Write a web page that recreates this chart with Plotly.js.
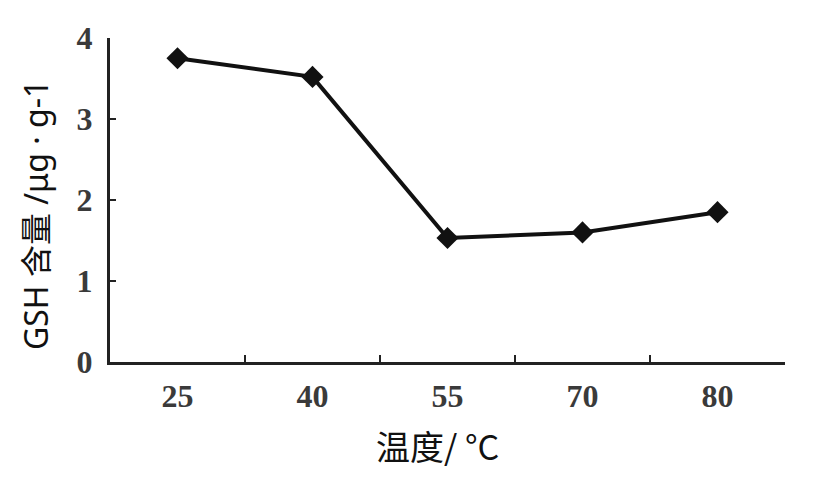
<!DOCTYPE html>
<html>
<head>
<meta charset="utf-8">
<script src="https://cdn.plot.ly/plotly-3.0.1.min.js"></script>
<style>html,body{margin:0;padding:0;background:#fff;}#chart{width:820px;height:488px;}</style>
</head>
<body>
<div id="chart"></div>
<script>
const temperatures = ["25", "40", "55", "70", "80"];
const gshContent = [3.75, 3.52, 1.53, 1.60, 1.85];
const yTicks = [0, 1, 2, 3, 4];
const xTitle = "温度/ °C";
const yTitle = "GSH 含量 /μg · g-1";

const trace = {
  x: temperatures,
  y: gshContent,
  type: "scatter",
  mode: "lines+markers",
  line: {color: "#111", width: 4},
  marker: {symbol: "diamond", size: 17, color: "#111"},
  cliponaxis: false,
  hoverinfo: "skip"
};

const tickFont = {family: "Liberation Serif, serif", size: 32, color: "#3a3a3a", weight: "bold"};

const layout = {
  width: 820, height: 488,
  margin: {l: 110, r: 35, t: 38, b: 126},
  paper_bgcolor: "#fff", plot_bgcolor: "#fff",
  showlegend: false,
  xaxis: {
    type: "category",
    range: [-0.5, 4.5],
    tickson: "boundaries",
    ticks: "inside", ticklen: 7, tickwidth: 2, tickcolor: "#222",
    showline: true, linecolor: "#222", linewidth: 3,
    showgrid: false, zeroline: false,
    tickfont: tickFont,
    ticklabelstandoff: 4
  },
  yaxis: {
    range: [0, 4],
    tickvals: yTicks,
    ticktext: yTicks.map(String),
    ticks: "inside", ticklen: 6, tickwidth: 2, tickcolor: "#222",
    showline: true, linecolor: "#222", linewidth: 3,
    showgrid: false, zeroline: false,
    tickfont: tickFont,
    ticklabelstandoff: 8
  },
  annotations: [
    {text: xTitle, xref: "paper", yref: "paper", x: (437 - 110) / 675, y: -(445 - 362) / 324,
     xanchor: "center", yanchor: "middle", showarrow: false,
     font: {family: "Noto Sans CJK SC, sans-serif", size: 34, color: "#111"}},
    {text: yTitle, xref: "paper", yref: "paper", x: -(110 - 35) / 675, y: (362 - 215) / 324,
     xanchor: "center", yanchor: "middle", showarrow: false, textangle: -90,
     font: {family: "Noto Sans, Noto Sans CJK SC, sans-serif", size: 32, color: "#111"}}
  ]
};

Plotly.newPlot("chart", [trace], layout, {staticPlot: true, displayModeBar: false});
</script>
</body>
</html>
